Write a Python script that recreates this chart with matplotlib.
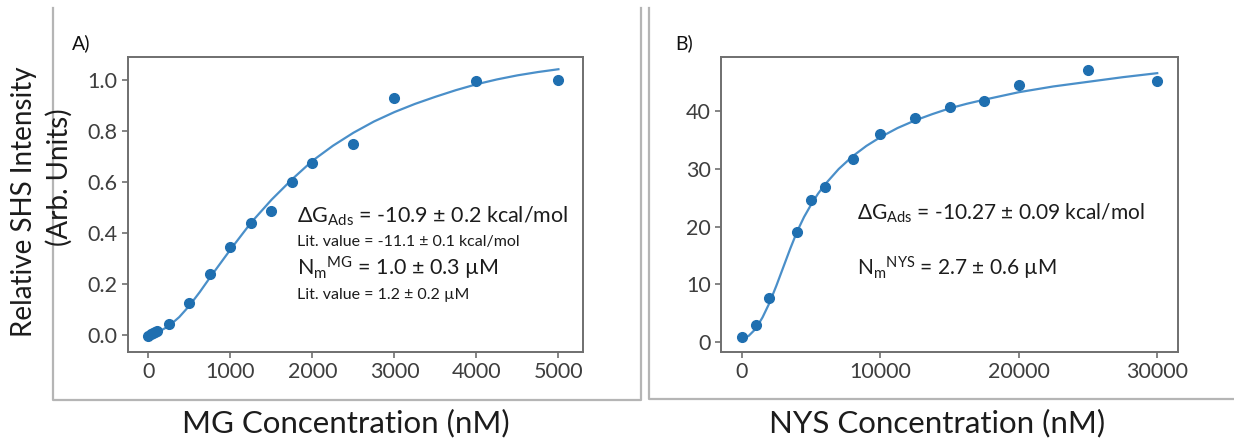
"""Two-panel SHS adsorption isotherms (MG and NYS) with fitted curves."""

import matplotlib
matplotlib.use("Agg")
import matplotlib.pyplot as plt
from matplotlib.lines import Line2D

plt.rcParams["font.family"] = ["Lato", "DejaVu Sans"]
plt.rcParams["mathtext.fontset"] = "custom"
plt.rcParams["mathtext.rm"] = "Lato"
plt.rcParams["mathtext.it"] = "Lato:italic"
plt.rcParams["mathtext.bf"] = "Lato:bold"

# panel A: malachite green
mg_conc = [0, 25, 50, 75, 100, 250, 500, 750, 1000, 1250, 1500, 1750, 2000, 2500, 3000, 4000, 5000]
mg_signal = [-0.003, 0.002, 0.006, 0.010, 0.015, 0.043, 0.125, 0.238, 0.345, 0.44, 0.487, 0.60,
             0.675, 0.749, 0.93, 0.996, 1.0]
mg_fit_x = [0, 100, 250, 375, 500, 625, 750, 1000, 1250, 1500, 1750, 2000, 2250, 2500, 2750,
            3000, 3250, 3500, 3750, 4000, 4250, 4500, 4750, 5000]
mg_fit_y = [0.0, 0.008, 0.035, 0.07, 0.115, 0.168, 0.225, 0.335, 0.44, 0.53, 0.61, 0.683,
            0.742, 0.793, 0.837, 0.874, 0.906, 0.934, 0.96, 0.983, 1.002, 1.018, 1.031, 1.042]

# panel B: nystatin
nys_conc = [0, 1000, 2000, 4000, 5000, 6000, 8000, 10000, 12500, 15000, 17500, 20000, 25000, 30000]
nys_signal = [0.9, 2.9, 7.6, 19.0, 24.7, 26.8, 31.7, 36.0, 38.9, 40.8, 41.7, 44.5, 47.1, 45.2]
nys_fit_x = [0, 500, 1000, 1500, 2000, 2500, 3000, 3500, 4000, 4500, 5000, 5500, 6000, 7000,
             8000, 9000, 10000, 11250, 12500, 13750, 15000, 16250, 17500, 20000, 22500,
             25000, 27500, 30000]
nys_fit_y = [0.5, 1.1, 2.3, 4.3, 6.8, 9.8, 13.0, 16.2, 19.2, 21.7, 23.8, 25.7, 27.3, 30.0,
             32.2, 34.0, 35.5, 37.1, 38.4, 39.5, 40.5, 41.3, 42.0, 43.3, 44.3, 45.1, 45.9, 46.6]

W, H = 1234, 438
fig = plt.figure(figsize=(W / 100, H / 100), dpi=100)

DOT = "#1f6fb0"
LINE = "#4a8fc9"
SPINE = "#6f6f6f"
FRAME = "#b5b5b5"
TXT = "#1c1c1c"


def px_axes(x0, y0, x1, y1):
    return fig.add_axes([x0 / W, 1 - y1 / H, (x1 - x0) / W, (y1 - y0) / H])


def frame(points):
    xs = [p[0] / W for p in points]
    ys = [1 - p[1] / H for p in points]
    fig.add_artist(Line2D(xs, ys, transform=fig.transFigure, color=FRAME, lw=1.6))


def style(ax):
    for s in ax.spines.values():
        s.set_color(SPINE)
        s.set_linewidth(1.4)
    ax.tick_params(colors=SPINE, labelcolor="#3e3e3e", labelsize=15.5, width=1.2, length=4)


frame([(53, 8), (53, 400), (641, 400), (641, 8)])
frame([(649, 8), (649, 399), (1234, 399)])

ax1 = px_axes(128, 57, 583, 352)
ax1.plot(mg_fit_x, mg_fit_y, color=LINE, lw=1.6)
ax1.plot(mg_conc, mg_signal, "o", color=DOT, ms=7)
ax1.set_xticks([0, 1000, 2000, 3000, 4000, 5000])
ax1.set_yticks([0.0, 0.2, 0.4, 0.6, 0.8, 1.0])
ax1.set_xlim(-250, 5300)
ax1.set_ylim(-0.067, 1.09)
style(ax1)

ax2 = px_axes(721, 57, 1178, 352)
ax2.plot(nys_fit_x, nys_fit_y, color=LINE, lw=1.6)
ax2.plot(nys_conc, nys_signal, "o", color=DOT, ms=7)
ax2.set_xticks([0, 10000, 20000, 30000])
ax2.set_yticks([0, 10, 20, 30, 40])
ax2.set_xlim(-1500, 31500)
ax2.set_ylim(-1.7, 49.4)
style(ax2)

fig.text(72 / W, 1 - 43 / H, "A)", fontsize=14, va="center", ha="left", color="#111")
fig.text(675 / W, 1 - 43 / H, "B)", fontsize=14, va="center", ha="left", color="#111")

fig.text(24 / W, 1 - 202 / H, "Relative SHS Intensity", rotation=90, fontsize=20,
         ha="center", va="center", color=TXT)
fig.text(59 / W, 1 - 177 / H, "(Arb. Units)", rotation=90, fontsize=20,
         ha="center", va="center", color=TXT)
fig.text(346 / W, 1 - 423 / H, "MG Concentration (nM)", fontsize=22.5,
         ha="center", va="center", color=TXT)
fig.text(937 / W, 1 - 423 / H, "NYS Concentration (nM)", fontsize=22.5,
         ha="center", va="center", color=TXT)

fig.text(297 / W, 1 - 216 / H, r"ΔG$_{\mathrm{Ads}}$ = -10.9 ± 0.2 kcal/mol", fontsize=15.5,
         ha="left", va="center", color=TXT)
fig.text(297 / W, 1 - 242 / H, "Lit. value = -11.1 ± 0.1 kcal/mol", fontsize=11.5,
         ha="left", va="center", color=TXT)
fig.text(297 / W, 1 - 268 / H, r"N$_{\mathrm{m}}{}^{\mathrm{MG}}$ = 1.0 ± 0.3 µM", fontsize=15.5,
         ha="left", va="center", color=TXT)
fig.text(297 / W, 1 - 295 / H, "Lit. value = 1.2 ± 0.2 µM", fontsize=11.5,
         ha="left", va="center", color=TXT)

fig.text(857 / W, 1 - 213 / H, r"ΔG$_{\mathrm{Ads}}$ = -10.27 ± 0.09 kcal/mol", fontsize=15,
         ha="left", va="center", color=TXT)
fig.text(857 / W, 1 - 268 / H, r"N$_{\mathrm{m}}{}^{\mathrm{NYS}}$ = 2.7 ± 0.6 µM", fontsize=15,
         ha="left", va="center", color=TXT)

fig.savefig("out.png", dpi=100)
